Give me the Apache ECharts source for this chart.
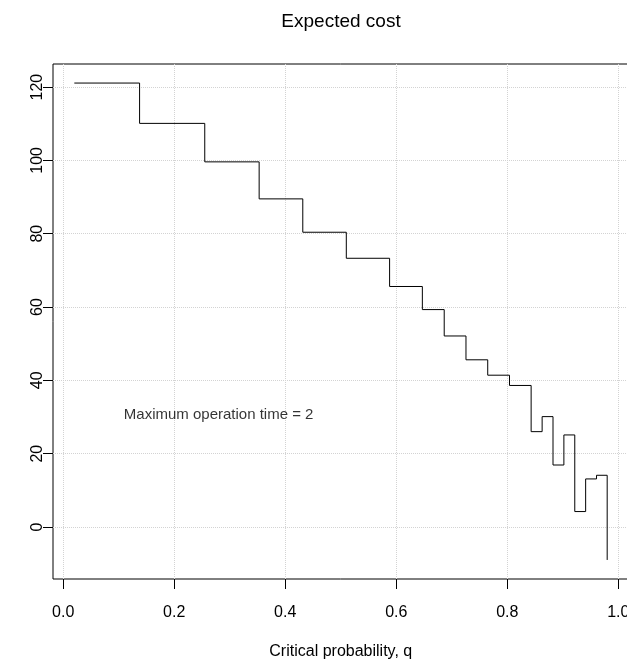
<!DOCTYPE html>
<html>
<head>
<meta charset="utf-8">
<script src="https://cdn.jsdelivr.net/npm/echarts@6/dist/echarts.min.js"></script>
<style>
  html, body { margin: 0; padding: 0; background: #fff; }
  #chart { width: 627px; height: 661px; }
</style>
</head>
<body>
<div id="chart"></div>
<script>
// step breakpoints (critical probability q) and expected cost at each one
const qBreaks = [0.02, 0.1376, 0.255, 0.353, 0.4316, 0.51, 0.588, 0.647, 0.6864, 0.7256,
  0.7648, 0.804, 0.843, 0.8628, 0.8824, 0.902, 0.9216, 0.9412, 0.9608, 0.98]
const costValues = [121.1, 110.1, 99.6, 89.5, 80.4, 73.3, 65.6, 59.3, 52.1, 45.6,
  41.4, 38.6, 26.0, 30.1, 16.9, 25.1, 4.2, 13.1, 14.1, -9.0]
const xTicks = [0, 0.2, 0.4, 0.6, 0.8, 1.0]
const yTicks = [0, 20, 40, 60, 80, 100, 120]
const notePos = [0.28, 30.5]
const noteText = 'Maximum operation time = 2'

const font = 'Liberation Sans, Arial, Helvetica, sans-serif'

let myChart = echarts.init(document.getElementById('chart'))

let stepData = qBreaks.map(function (q, i) {
  return [q, costValues[i]]
})

let option = {
  animation: false,
  backgroundColor: '#fff',
  graphic: [
    {
      type: 'text',
      x: 341,
      y: 22,
      style: {
        text: 'Expected cost',
        fontFamily: font,
        fontSize: 19,
        fill: '#000',
        align: 'center',
        verticalAlign: 'middle'
      }
    }
  ],
  grid: {
    left: 53,
    top: 64,
    width: 575.5,
    height: 515,
    outerBoundsMode: 'none',
    containLabel: false,
    show: true,
    borderColor: '#000',
    borderWidth: 1,
    backgroundColor: 'transparent'
  },
  xAxis: {
    type: 'value',
    min: -0.0184,
    max: 1.0184,
    name: 'Critical probability, q',
    nameLocation: 'middle',
    nameGap: 65,
    nameTextStyle: { fontFamily: font, fontSize: 16, color: '#000' },
    axisLine: { show: false, onZero: false },
    axisTick: {
      show: true,
      inside: false,
      length: 10,
      customValues: xTicks,
      lineStyle: { color: '#000', width: 1 }
    },
    axisLabel: {
      customValues: xTicks,
      margin: 26,
      fontFamily: font,
      fontSize: 16,
      color: '#000',
      formatter: function (v) { return v.toFixed(1) }
    },
    splitLine: {
      show: true,
      lineStyle: { color: '#d3d3d3', type: 'dotted', width: 1 }
    }
  },
  yAxis: {
    type: 'value',
    min: -14.2,
    max: 126.3,
    axisLine: { show: false, onZero: false },
    axisTick: {
      show: true,
      inside: false,
      length: 10,
      customValues: yTicks,
      lineStyle: { color: '#000', width: 1 }
    },
    axisLabel: {
      customValues: yTicks,
      rotate: 90,
      margin: 7,
      fontFamily: font,
      fontSize: 16,
      color: '#000'
    },
    splitLine: {
      show: true,
      lineStyle: { color: '#d3d3d3', type: 'dotted', width: 1 }
    }
  },
  series: [
    {
      name: 'cost',
      type: 'line',
      step: 'end',
      showSymbol: false,
      symbol: 'none',
      lineStyle: { color: '#000', width: 1 },
      data: stepData
    },
    {
      // annotation text
      type: 'scatter',
      symbolSize: 0,
      silent: true,
      data: [notePos],
      label: {
        show: true,
        position: 'inside',
        formatter: noteText,
        fontFamily: font,
        fontSize: 15,
        color: '#000'
      }
    }
  ]
}

myChart.setOption(option)
</script>
</body>
</html>
